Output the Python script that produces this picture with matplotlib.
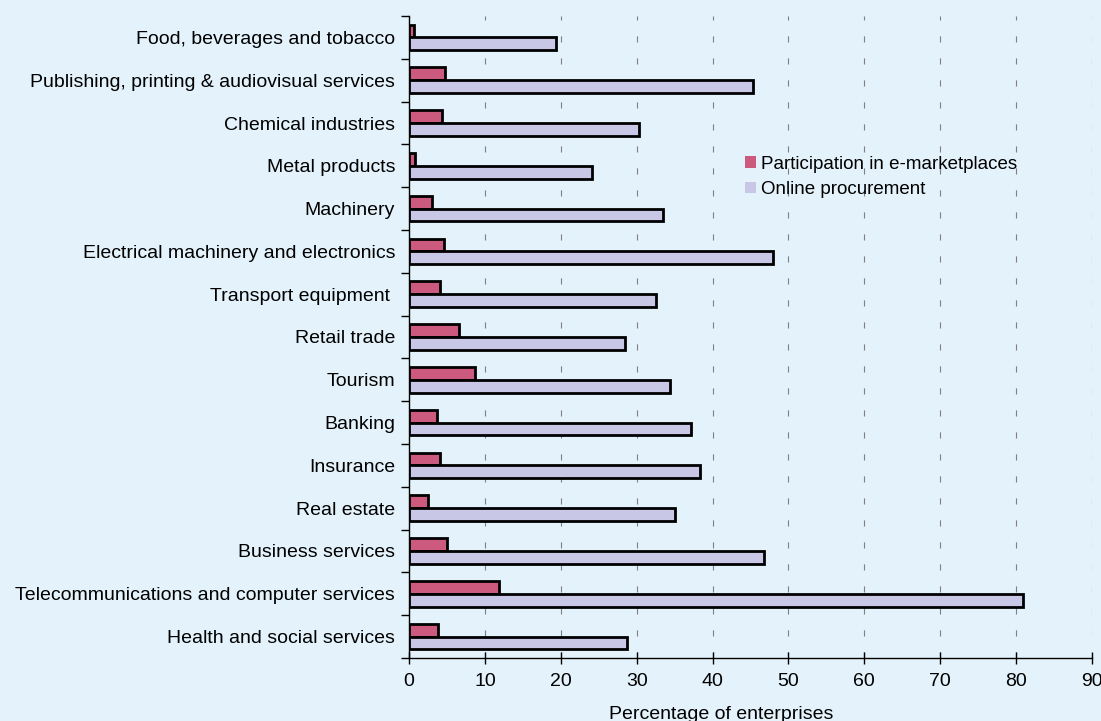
import matplotlib.pyplot as plt
import numpy as np

plt.rcParams['font.family'] = ['Liberation Sans', 'DejaVu Sans']

sectors = ["Food, beverages and tobacco",
           "Publishing, printing & audiovisual services",
           "Chemical industries",
           "Metal products",
           "Machinery",
           "Electrical machinery and electronics",
           "Transport equipment ",
           "Retail trade",
           "Tourism",
           "Banking",
           "Insurance",
           "Real estate",
           "Business services",
           "Telecommunications and computer services",
           "Health and social services"]
e_market = [0.7, 4.7, 4.3, 0.8, 3.0, 4.6, 4.1, 6.6, 8.7, 3.7, 4.1, 2.5, 5.0, 11.9, 3.8]
online_proc = [19.4, 45.3, 30.3, 24.1, 33.5, 48.0, 32.5, 28.5, 34.4, 37.2, 38.3, 35.0, 46.8, 80.9, 28.7]
xticks = [0, 10, 20, 30, 40, 50, 60, 70, 80, 90]

bg = '#e4f2fb'
red = '#cc5a7e'
lilac = '#c8c8e6'
fs = 14

fig = plt.figure(figsize=(11.01, 7.21), dpi=100, facecolor=bg)
ax = fig.add_axes([409/1101, 63/721, 683/1101, 642/721], facecolor=bg)

y = np.arange(len(sectors))
h = 0.3
ax.barh(y - h/2, e_market, height=h, color=red, edgecolor='black', linewidth=2,
        label='Participation in e-marketplaces', zorder=3)
ax.barh(y + h/2, online_proc, height=h, color=lilac, edgecolor='black', linewidth=2,
        label='Online procurement', zorder=3)

ax.set_ylim(len(sectors) - 0.5, -0.5)
ax.set_xlim(0, 90)
ax.set_xticks(xticks)
ax.set_yticks(y)
ax.set_yticklabels(sectors, fontsize=fs)
ax.set_yticks(np.arange(len(sectors) + 1) - 0.5, minor=True)
ax.tick_params(axis='y', which='major', length=0, pad=10)
ax.tick_params(axis='y', which='minor', length=6, width=1, direction='out')
ax.tick_params(axis='x', length=8, width=1, direction='inout', labelsize=fs, pad=7)

for s in ['top', 'right']:
    ax.spines[s].set_visible(False)
for s in ['left', 'bottom']:
    ax.spines[s].set_linewidth(1)

ax.grid(axis='x', color='#808080', linewidth=0.8, linestyle=(0, (5.5, 14.3)), zorder=1)

ax.set_xlabel('Percentage of enterprises', fontsize=fs)
ax.xaxis.set_label_coords((721 - 409) / 683, -0.074)

leg = ax.legend(loc='upper left', bbox_to_anchor=(0.478, 0.797), frameon=False,
                fontsize=13.5, handlelength=0.6, handleheight=0.6,
                handletextpad=0.25, labelspacing=0.45, borderpad=0)
for patch in leg.get_patches():
    patch.set_edgecolor('none')

fig.savefig('out.png', dpi=100, facecolor=bg)
